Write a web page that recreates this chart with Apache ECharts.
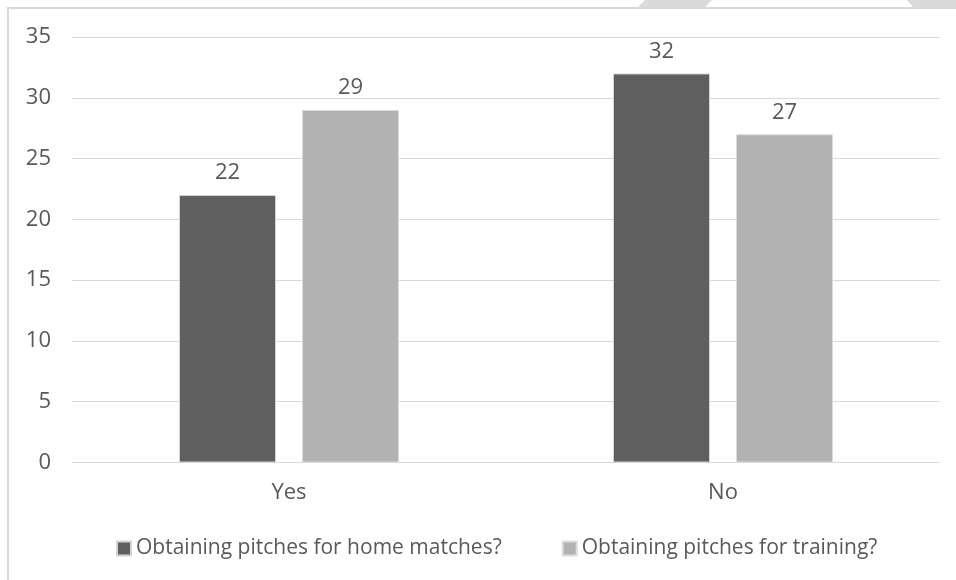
<!DOCTYPE html>
<html>
<head>
<meta charset="utf-8">
<title>Obtaining pitches</title>
<script src="https://cdn.jsdelivr.net/npm/echarts@6/dist/echarts.min.js"></script>
<style>
  html, body { margin: 0; padding: 0; background: #ffffff; }
  #chart { width: 956px; height: 580px; }
</style>
</head>
<body>
<div id="chart"></div>
<script>
// Survey answers per category
const categories = ['Yes', 'No'];
const seriesNames = ['Obtaining pitches for home matches?', 'Obtaining pitches for training?'];
const homeMatches = [22, 32];
const training = [29, 27];
const yTicks = { min: 0, max: 35, interval: 5 };

const FONT = '"Open Sans", "DejaVu Sans", sans-serif';
const TEXT = '#595959';
const FS = 22;

const chart = echarts.init(document.getElementById('chart'), null, { renderer: 'canvas' });

const labelStyle = {
  show: true,
  position: 'top',
  distance: 11,
  color: TEXT,
  fontFamily: FONT,
  fontSize: FS
};

chart.setOption({
  animation: false,
  backgroundColor: '#ffffff',
  graphic: [
    // outer frame
    {
      type: 'rect',
      shape: { x: 8, y: 8, width: 1000, height: 700 },
      style: { fill: 'none', stroke: '#d9d9d9', lineWidth: 2 },
      silent: true
    },
    // page decoration strip along the top edge
    {
      type: 'polygon',
      shape: { points: [[638, 7], [645, 0], [712, 0], [705, 7]] },
      style: { fill: '#dadada' },
      silent: true
    },
    {
      type: 'polygon',
      shape: { points: [[907, 0], [956, 0], [956, 7], [913, 7]] },
      style: { fill: '#dadada' },
      silent: true
    }
  ],
  grid: { left: 72, right: 16, top: 37, bottom: 117.5, containLabel: false },
  legend: {
    data: seriesNames,
    top: 538,
    left: 116,
    padding: 0,
    itemWidth: 14,
    itemHeight: 14,
    itemGap: 60,
    icon: 'rect',
    textStyle: { color: TEXT, fontFamily: FONT, fontSize: 21 }
  },
  xAxis: {
    type: 'category',
    data: categories,
    axisLine: { show: true, lineStyle: { color: '#d9d9d9', width: 1 } },
    axisTick: { show: false },
    axisLabel: { color: TEXT, fontFamily: FONT, fontSize: FS, margin: 19 }
  },
  yAxis: {
    type: 'value',
    min: yTicks.min,
    max: yTicks.max,
    interval: yTicks.interval,
    axisLine: { show: false },
    axisTick: { show: false },
    axisLabel: { color: TEXT, fontFamily: FONT, fontSize: FS, margin: 21 },
    splitLine: { lineStyle: { color: '#d9d9d9', width: 1 } }
  },
  series: [
    {
      name: seriesNames[0],
      type: 'bar',
      data: homeMatches,
      barWidth: 97,
      barGap: '26.8%',
      itemStyle: { color: '#5f5f5f', borderColor: '#d4d4d4', borderWidth: 1 },
      label: labelStyle
    },
    {
      name: seriesNames[1],
      type: 'bar',
      data: training,
      barWidth: 97,
      barGap: '26.8%',
      itemStyle: { color: '#b2b2b2', borderColor: '#dcdcdc', borderWidth: 1 },
      label: labelStyle
    }
  ]
});
</script>
</body>
</html>
